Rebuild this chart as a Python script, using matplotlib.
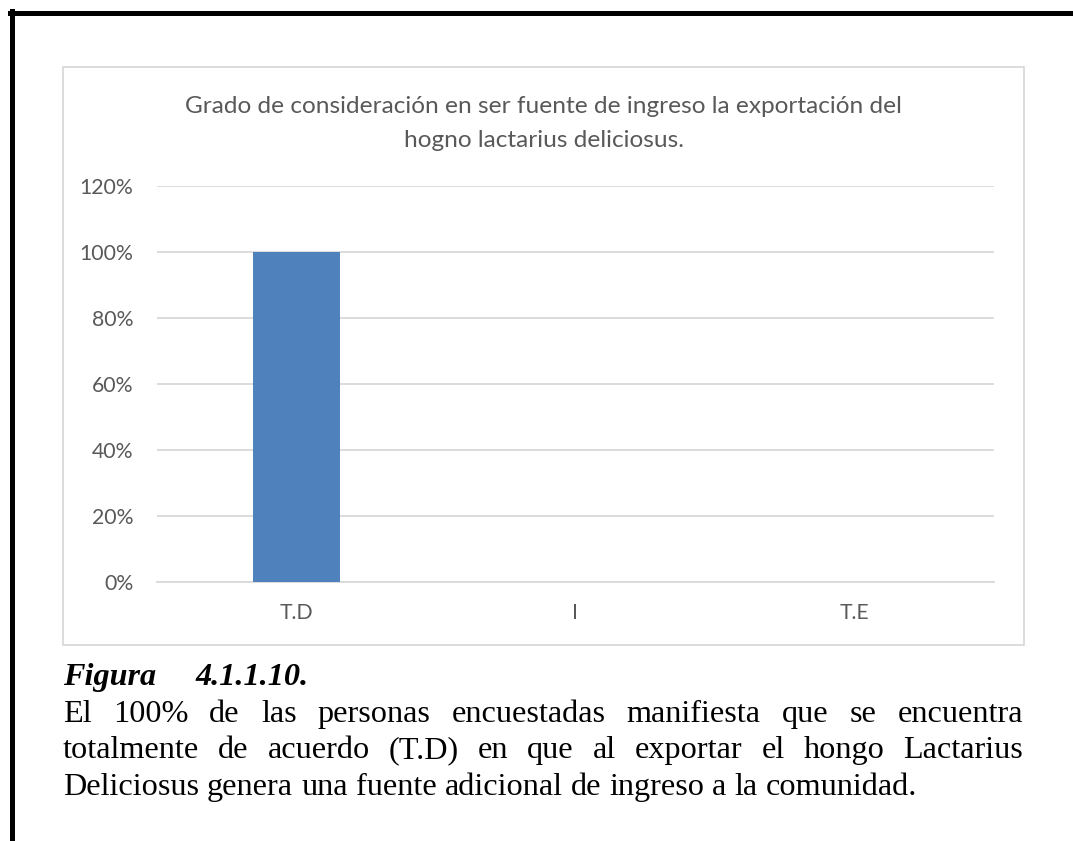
import matplotlib
matplotlib.use("Agg")
import matplotlib.pyplot as plt
from matplotlib.patches import Rectangle
from matplotlib.lines import Line2D

categories = ["T.D", "I", "T.E"]
values = [1.00, 0.0, 0.0]
yticks = [0, 0.2, 0.4, 0.6, 0.8, 1.0, 1.2]
ytick_labels = ["0%", "20%", "40%", "60%", "80%", "100%", "120%"]

title = ("Grado de consideración en ser fuente de ingreso la exportación del\n"
         "hogno lactarius deliciosus.")
fig_label = ["Figura", "4.1.1.10."]
caption_lines = [
    "El 100% de las personas encuestadas manifiesta que se encuentra",
    "totalmente de acuerdo (T.D) en que al exportar el hongo Lactarius",
    "Deliciosus genera una fuente adicional de ingreso a la comunidad.",
]

W, H = 1073, 841
fig = plt.figure(figsize=(W / 100, H / 100), dpi=100)
gray = "#595959"
grid = "#d9d9d9"
cap_size = 23.2


def fx(px):
    return px / W


def fy(py):
    return 1 - py / H


# outer page frame (left and top edges only)
fig.add_artist(Line2D([fx(10), fx(W)], [fy(12.5), fy(12.5)], color="black", lw=3.6))
fig.add_artist(Line2D([fx(12), fx(12)], [fy(10.5), fy(H)], color="black", lw=3.6))

# chart area border
fig.add_artist(Rectangle((fx(63), fy(645)), fx(1024) - fx(63), fy(67) - fy(645),
                         transform=fig.transFigure, fill=False, edgecolor=grid, lw=1.3))

ax = fig.add_axes([fx(157), fy(582), fx(994) - fx(157), fy(186) - fy(582)])
ax.bar(range(len(categories)), values, width=0.315, color="#4f81bd", zorder=3)
ax.set_xlim(-0.5, len(categories) - 0.5)
ax.set_ylim(0, 1.2)
ax.set_yticks(yticks)
ax.set_yticklabels(ytick_labels)
ax.set_xticks(range(len(categories)))
ax.set_xticklabels(categories)
ax.yaxis.grid(True, color=grid, lw=1.3, zorder=0)
ax.set_axisbelow(True)
for s in ["top", "right", "left"]:
    ax.spines[s].set_visible(False)
ax.spines["bottom"].set_color(grid)
ax.spines["bottom"].set_linewidth(1.3)
ax.tick_params(axis="both", length=0, colors=gray, labelsize=15.3)
ax.tick_params(axis="y", pad=17)
ax.tick_params(axis="x", pad=15)
for lbl in ax.get_xticklabels() + ax.get_yticklabels():
    lbl.set_fontfamily("Lato")

fig.text(fx(543.5), fy(113), title.split("\n")[0], ha="center", va="baseline",
         color=gray, fontsize=17.6, family="Lato")
fig.text(fx(543.5), fy(147), title.split("\n")[1], ha="center", va="baseline",
         color=gray, fontsize=17.6, family="Lato")

# caption
serif = "Liberation Serif"
fig.text(fx(63), fy(685), fig_label[0], ha="left", va="baseline", fontsize=cap_size,
         family=serif, weight="bold", style="italic")
fig.text(fx(196), fy(685), fig_label[1], ha="left", va="baseline", fontsize=cap_size,
         family=serif, weight="bold", style="italic")

renderer = fig.canvas.get_renderer()


def justified(line, y, x0, x1, last=False):
    words = line.split()
    arts = [fig.text(0, fy(y), w, ha="left", va="baseline", fontsize=cap_size, family=serif)
            for w in words]
    widths = [a.get_window_extent(renderer).width for a in arts]
    if last:
        space = cap_size * 100 / 72 * 0.25
    else:
        space = (x1 - x0 - sum(widths)) / (len(words) - 1)
    x = x0
    for a, w in zip(arts, widths):
        a.set_x(fx(x))
        x += w + space


baselines = [722, 758, 795]
for i, (line, y) in enumerate(zip(caption_lines, baselines)):
    justified(line, y, 63, 1023, last=(i == len(caption_lines) - 1))

fig.savefig("out.png", dpi=100)
